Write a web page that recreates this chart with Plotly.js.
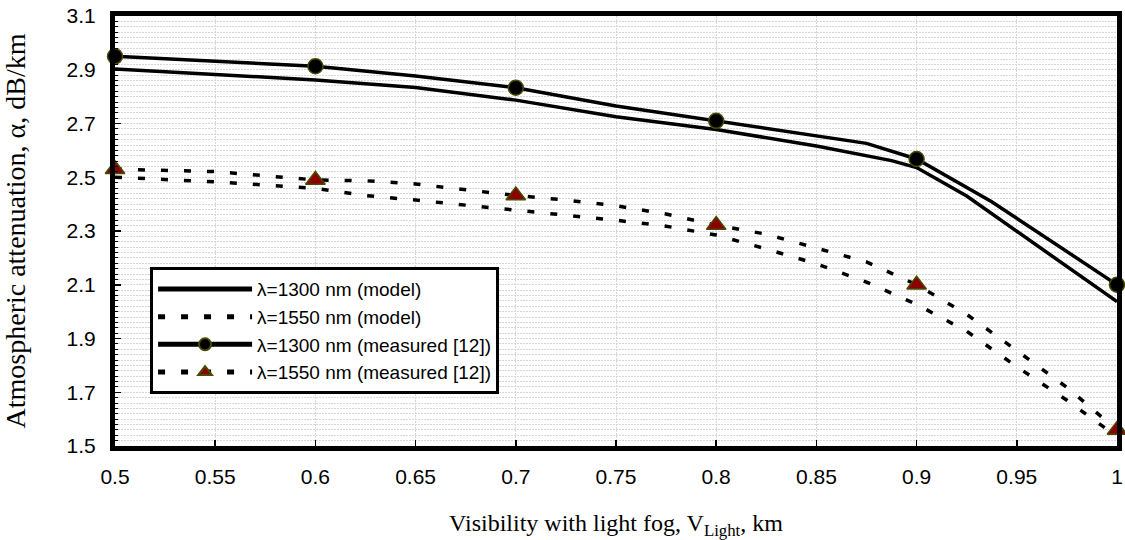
<!DOCTYPE html>
<html>
<head>
<meta charset="utf-8">
<script src="https://cdn.plot.ly/plotly-3.0.1.min.js"></script>
<style>html,body{margin:0;padding:0;background:#fff;}#chart{width:1125px;height:540px;}</style>
</head>
<body>
<div id="chart"></div>
<script>
// λ=1300 nm (model)
const model1300X = [0.5, 0.55, 0.6, 0.65, 0.7, 0.75, 0.8, 0.85, 0.8875, 0.9, 0.925, 1.0];
const model1300Y = [2.903, 2.882, 2.862, 2.834, 2.787, 2.725, 2.678, 2.616, 2.562, 2.536, 2.430, 2.037];
// λ=1550 nm (model)
const model1550X = [0.5, 0.55, 0.6, 0.625, 0.65, 0.7, 0.75, 0.775, 0.8, 0.825, 0.85, 0.875, 0.9, 0.925, 0.95, 0.975, 1.0];
const model1550Y = [2.500, 2.483, 2.459, 2.432, 2.415, 2.378, 2.340, 2.318, 2.285, 2.233, 2.178, 2.110, 2.027, 1.927, 1.795, 1.670, 1.535];
// λ=1300 nm (measured [12])
const meas1300X = [0.5, 0.55, 0.6, 0.65, 0.7, 0.75, 0.8, 0.85, 0.875, 0.9, 0.9375, 1.0];
const meas1300Y = [2.950, 2.933, 2.913, 2.877, 2.833, 2.765, 2.710, 2.653, 2.626, 2.568, 2.409, 2.100];
// λ=1550 nm (measured [12])
const meas1550X = [0.5, 0.55, 0.6, 0.625, 0.65, 0.675, 0.7, 0.725, 0.75, 0.775, 0.8, 0.825, 0.85, 0.875, 0.9, 0.925, 0.95, 0.975, 1.0];
const meas1550Y = [2.530, 2.521, 2.490, 2.487, 2.475, 2.454, 2.432, 2.415, 2.394, 2.363, 2.322, 2.288, 2.236, 2.185, 2.100, 1.990, 1.855, 1.718, 1.560];
// x positions where measured points carry a marker
const markedX = [0.5, 0.6, 0.7, 0.8, 0.9, 1.0];

const seriesNames = ['λ=1300 nm (model)', 'λ=1550 nm (model)', 'λ=1300 nm (measured [12])', 'λ=1550 nm (measured [12])'];

const isMarked = x => markedX.some(m => Math.abs(m - x) < 1e-9);
const DASH = '7px,16px';

const traces = [
  { x: model1300X, y: model1300Y, name: seriesNames[0], mode: 'lines', cliponaxis: false,
    line: { color: '#000', width: 3.5 } },
  { x: model1550X, y: model1550Y, name: seriesNames[1], mode: 'lines', cliponaxis: false,
    line: { color: '#000', width: 3.5, dash: DASH } },
  { x: meas1300X, y: meas1300Y, name: seriesNames[2], mode: 'lines+markers', cliponaxis: false,
    line: { color: '#000', width: 3.5 },
    marker: { symbol: 'circle', color: '#000', opacity: 1,
      size: meas1300X.map(x => isMarked(x) ? 15 : 0),
      line: { color: '#4a4a00', width: meas1300X.map(x => isMarked(x) ? 1.5 : 0) } } },
  { x: meas1550X, y: meas1550Y, name: seriesNames[3], mode: 'lines+markers', cliponaxis: false,
    line: { color: '#000', width: 3.5, dash: DASH },
    marker: { symbol: 'triangle-up', color: '#8b0000', opacity: 1,
      size: meas1550X.map(x => isMarked(x) ? 17 : 0),
      line: { color: '#4a4a00', width: meas1550X.map(x => isMarked(x) ? 1.5 : 0) } } }
];

const gridCol = '#d6d6d6';
const layout = {
  width: 1125, height: 540,
  margin: { l: 115, r: 8, t: 16, b: 94 },
  paper_bgcolor: '#fff', plot_bgcolor: '#fff',
  font: { family: 'Liberation Sans, Arial, sans-serif', color: '#000' },
  showlegend: true,
  legend: {
    x: 0.035, y: 0.416, xanchor: 'left', yanchor: 'top',
    bgcolor: '#fff', bordercolor: '#000', borderwidth: 3,
    font: { size: 19, family: 'Liberation Sans, Arial, sans-serif' },
    itemsizing: 'constant', itemwidth: 94, tracegroupgap: 0
  },
  xaxis: {
    range: [0.5, 1.0], dtick: 0.05, tick0: 0.5, autorange: false,
    showline: true, linecolor: '#000', linewidth: 5, mirror: true,
    ticks: 'inside', ticklen: 6, tickwidth: 1.5, tickcolor: '#000',
    showgrid: true, gridcolor: gridCol, gridwidth: 1, griddash: '2px,1px',
    zeroline: false, ticklabelstandoff: 8,
    tickfont: { size: 21, family: 'Liberation Sans, Arial, sans-serif' },
    title: { text: 'Visibility with light fog, V<sub>Light</sub>, km', standoff: 28,
      font: { size: 24, family: 'Liberation Serif, Times New Roman, serif' } }
  },
  yaxis: {
    range: [1.5, 3.1], dtick: 0.2, tick0: 1.5, autorange: false,
    showline: true, linecolor: '#000', linewidth: 5, mirror: true,
    ticks: 'inside', ticklen: 6, tickwidth: 1.5, tickcolor: '#000',
    showgrid: true, gridcolor: gridCol, gridwidth: 1, griddash: '2px,1px',
    minor: { dtick: 0.02, tick0: 1.5, showgrid: true, gridcolor: gridCol, gridwidth: 1, griddash: '2px,1px',
      ticks: 'inside', ticklen: 3, tickwidth: 1, tickcolor: '#000' },
    zeroline: false, ticklabelstandoff: 10, tickformat: '.1f',
    tickfont: { size: 21, family: 'Liberation Sans, Arial, sans-serif' },
    title: { text: 'Atmospheric attenuation, α, dB/km', standoff: 34,
      font: { size: 28, family: 'Liberation Serif, Times New Roman, serif' } }
  }
};

Plotly.newPlot('chart', traces, layout, { displayModeBar: false, staticPlot: true });
</script>
</body>
</html>
